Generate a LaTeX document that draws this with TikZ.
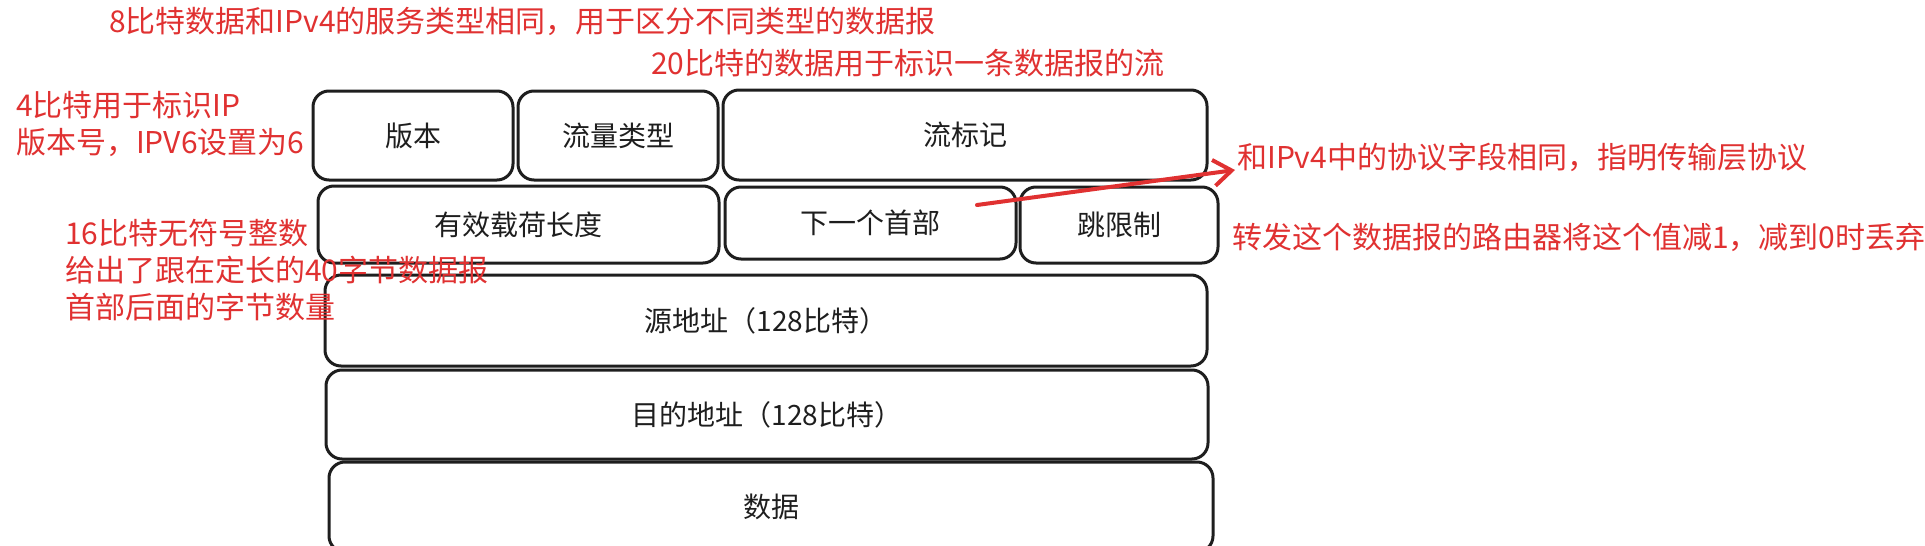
\documentclass[tikz,border=0pt]{standalone}
\usepackage{fontspec}
\setmainfont{Noto Sans CJK SC}
\usetikzlibrary{arrows.meta}
\definecolor{notered}{HTML}{E03131}
\definecolor{inkblack}{HTML}{1E1E1E}

\begin{document}
\begin{tikzpicture}[x=1pt, y=-1pt,
    field/.style={draw=inkblack, line width=3pt, rounded corners=16pt, inner sep=0pt,
      text=inkblack, font=\fontsize{28}{34}\selectfont},
    note/.style={anchor=west, inner sep=0pt, align=left, text=notered,
      font=\fontsize{30}{37}\selectfont}]
  \useasboundingbox (0, 0) rectangle (1925, 546);
  \clip (0, 0) rectangle (1925, 546);

  % Header fields, row by row
  \foreach \fid/\cx/\cy/\bw/\bh/\txt in {
    ver/413/135.5/200/89/版本,
    tc/618/135.5/200/89/流量类型,
    fl/965/135/484/90/流标记,
    plen/518.5/224.5/401/77/有效载荷长度,
    nh/870.5/223/291/72/下一个首部,
    hl/1119/225/198/76/跳限制,
    src/766/320.5/882/91/源地址（128比特）,
    dst/767/414.5/882/89/目的地址（128比特）,
    data/771/507/884/90/数据
  } {
    \node [field, minimum width=\bw pt, minimum height=\bh pt] (\fid) at (\cx, \cy) {\txt};
  }

  % Notes
  \node [note] (tcnote) at (109, 21) {8比特数据和IPv4的服务类型相同，用于区分不同类型的数据报};
  \node [note] (flnote) at (651, 63) {20比特的数据用于标识一条数据报的流};
  \node [note] (vernote) at (16, 124) {4比特用于标识IP\\版本号，IPV6设置为6};
  \node [note] (plennote) at (65, 270) {16比特无符号整数\\给出了跟在定长的40字节数据报\\首部后面的字节数量};
  \node [note] (nhnote) at (1237, 157) {和IPv4中的协议字段相同，指明传输层协议};
  \node [note] (hlnote) at (1232, 237) {转发这个数据报的路由器将这个值减1，减到0时丢弃};

  % Pointer from next header to its note
  \coordinate (nhtail) at (977, 205);
  \draw [notered, line width=4pt, line cap=round, -{Straight Barb[length=18pt, width=26pt]}]
    (nhtail) -- ([xshift=-2pt, yshift=-13pt]nhnote.west);
\end{tikzpicture}
\end{document}
